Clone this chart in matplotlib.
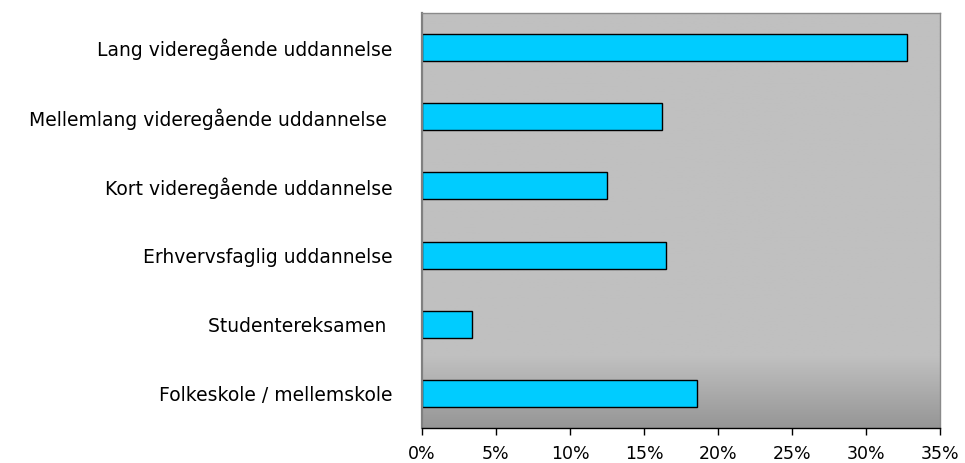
import matplotlib

matplotlib.use("Agg")
import matplotlib.pyplot as plt
import numpy as np
from matplotlib.colors import LinearSegmentedColormap
from matplotlib.ticker import FuncFormatter, MultipleLocator

plt.rcParams["font.family"] = ["DejaVu Sans"]

# education levels, top to bottom
categories = [
    "Lang videregående uddannelse",
    "Mellemlang videregående uddannelse ",
    "Kort videregående uddannelse",
    "Erhvervsfaglig uddannelse",
    "Studentereksamen ",
    "Folkeskole / mellemskole",
]
shares = [32.8, 16.2, 12.5, 16.5, 3.4, 18.6]

fig = plt.figure(figsize=(9.65, 4.63), dpi=100)
ax = fig.add_axes([0.4373, 0.0756, 0.5368, 0.8963])

# grey plot area that darkens towards the bottom
shade = LinearSegmentedColormap.from_list(
    "shade", [(0.0, "#969696"), (0.17, "#c0c0c0"), (1.0, "#c0c0c0")]
)
grad = np.linspace(0, 1, 256).reshape(-1, 1)
ax.imshow(grad, cmap=shade, aspect="auto", origin="lower",
          extent=[0, 1, 0, 1], transform=ax.transAxes, zorder=0)

y = np.arange(len(categories))
ax.barh(y, shares, height=0.39, color="#00ccff", edgecolor="black",
        linewidth=1.0, zorder=2)

ax.set_xlim(0, 35)
ax.set_ylim(len(categories) - 0.5, -0.5)
ax.set_yticks(y)
ax.set_yticklabels(categories, fontsize=13.5)
ax.tick_params(axis="y", length=0, pad=21)

ax.xaxis.set_major_locator(MultipleLocator(5))
ax.xaxis.set_major_formatter(FuncFormatter(lambda v, _: f"{v:.0f}%"))
ax.tick_params(axis="x", direction="out", length=5, width=1, pad=7.5,
               labelsize=12.5, color="black")

for side in ("top", "right"):
    ax.spines[side].set_color("#8a8a8a")
    ax.spines[side].set_linewidth(1.0)
ax.spines["left"].set_color("#808080")
ax.spines["left"].set_linewidth(1.6)
ax.spines["bottom"].set_color("black")
ax.spines["bottom"].set_linewidth(1.0)

fig.savefig("out.png", dpi=100, facecolor="white")
